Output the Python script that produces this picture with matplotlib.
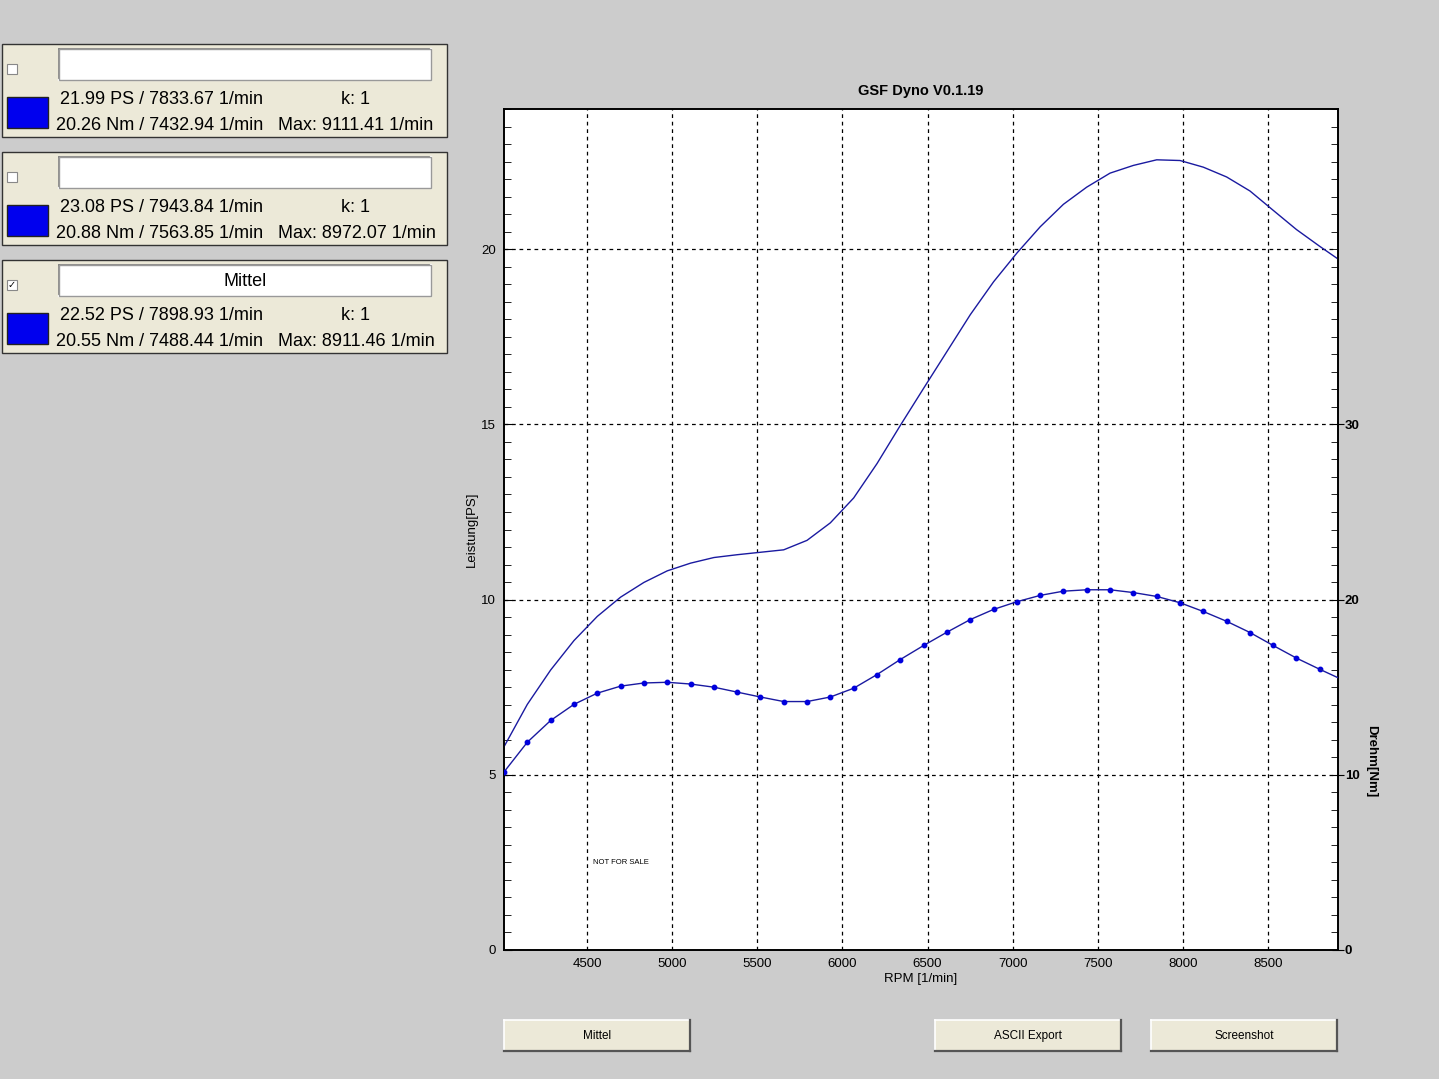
import matplotlib
matplotlib.use("Agg")
import matplotlib.pyplot as plt
from matplotlib.patches import Rectangle
from matplotlib.ticker import MultipleLocator

# Data
rpm = [4012, 4149, 4286, 4423, 4560, 4697, 4834, 4971, 5108, 5245, 5381, 5518,
       5655, 5792, 5929, 6066, 6203, 6340, 6477, 6614, 6751, 6888, 7025, 7162,
       7298, 7435, 7572, 7709, 7846, 7983, 8120, 8257, 8394, 8530, 8667, 8804,
       8911]
power_ps = [5.80, 7.01, 7.99, 8.83, 9.52, 10.07, 10.49, 10.82, 11.04, 11.20,
            11.28, 11.35, 11.42, 11.69, 12.19, 12.90, 13.88, 14.97, 16.03, 17.08,
            18.13, 19.07, 19.89, 20.64, 21.28, 21.77, 22.17, 22.39, 22.55, 22.53,
            22.34, 22.06, 21.66, 21.11, 20.56, 20.08, 19.72]
torque_nm = [10.16, 11.86, 13.10, 14.02, 14.66, 15.06, 15.24, 15.28, 15.18, 15.00,
             14.72, 14.44, 14.18, 14.18, 14.44, 14.94, 15.72, 16.58, 17.38, 18.14,
             18.86, 19.44, 19.88, 20.24, 20.48, 20.56, 20.56, 20.40, 20.18, 19.82,
             19.32, 18.76, 18.12, 17.38, 16.66, 16.02, 15.54]

panel_names = ["", "", "Mittel"]
panel_checked = [False, False, True]
panel_line1 = ["21.99 PS / 7833.67 1/min", "23.08 PS / 7943.84 1/min",
               "22.52 PS / 7898.93 1/min"]
panel_line2 = ["20.26 Nm / 7432.94 1/min", "20.88 Nm / 7563.85 1/min",
               "20.55 Nm / 7488.44 1/min"]
panel_max = ["Max: 9111.41 1/min", "Max: 8972.07 1/min", "Max: 8911.46 1/min"]
button_labels = ["Mittel", "ASCII Export", "Screenshot"]

W, H = 1439, 1079
BG = "#cccccc"
BEIGE = "#ece9d8"
LINE = "#1a1aa0"

plt.rcParams['font.family'] = ['Liberation Sans', 'DejaVu Sans']


def box(x, y, w, h):
    # pixel box (top-left origin) -> figure fraction rect
    return [x / W, 1 - (y + h) / H, w / W, h / H]


def fx(x):
    return x / W


def fy(y):
    return 1 - y / H


fig = plt.figure(figsize=(W / 100, H / 100), dpi=100, facecolor=BG)


def rect(x, y, w, h, fc, ec="none", lw=1.0, z=1):
    r = Rectangle((x / W, 1 - (y + h) / H), w / W, h / H, transform=fig.transFigure,
                  facecolor=fc, edgecolor=ec, linewidth=lw, zorder=z)
    fig.patches.append(r)


def bevel(x, y, w, h, raised=True):
    light, dark = ("white", "#555555") if raised else ("#808080", "white")
    fig.add_artist(plt.Line2D([fx(x), fx(x + w)], [fy(y), fy(y)], color=light, lw=1.2))
    fig.add_artist(plt.Line2D([fx(x), fx(x)], [fy(y), fy(y + h)], color=light, lw=1.2))
    fig.add_artist(plt.Line2D([fx(x), fx(x + w)], [fy(y + h), fy(y + h)], color=dark, lw=1.6))
    fig.add_artist(plt.Line2D([fx(x + w), fx(x + w)], [fy(y), fy(y + h)], color=dark, lw=1.6))


# left info panels
for i in range(3):
    top = 44 + i * 108
    rect(2, top, 445, 93, BEIGE, ec="#333333", lw=1.0)
    rect(59, top + 5, 372, 31, "white", ec="#999999", lw=1.0, z=2)
    bevel(59, top + 5, 372, 31, raised=False)
    if panel_names[i]:
        fig.text(fx(245), fy(top + 21), panel_names[i], ha="center", va="center",
                 fontsize=13, color="black")
    rect(7, top + 20, 10, 10, "white", ec="#888888", lw=0.8, z=2)
    if panel_checked[i]:
        fig.text(fx(12), fy(top + 25), "\u2713", ha="center", va="center",
                 fontsize=7, color="black", family="DejaVu Sans", fontweight="bold")
    rect(7, top + 53, 41, 31, "#0000ee", ec="#222222", lw=1.0, z=2)
    fig.text(fx(60), fy(top + 55), panel_line1[i], ha="left", va="center",
             fontsize=13, color="black")
    fig.text(fx(341), fy(top + 55), "k: 1", ha="left", va="center",
             fontsize=13, color="black")
    fig.text(fx(56), fy(top + 82), panel_line2[i], ha="left", va="center",
             fontsize=13, color="black")
    fig.text(fx(278), fy(top + 82), panel_max[i], ha="left", va="center",
             fontsize=13, color="black")

# buttons
for lbl, bx in zip(button_labels, [504, 935, 1151]):
    rect(bx, 1020, 186, 31, BEIGE, z=1)
    bevel(bx, 1020, 186, 31, raised=True)
    fig.text(fx(bx + 93), fy(1036), lbl, ha="center", va="center",
             fontsize=8.5, color="black")

# main chart
ax = fig.add_axes(box(504, 109, 834, 841))
ax.set_facecolor("white")
ax.plot(rpm, power_ps, color=LINE, lw=1.0, zorder=3)
ax.set_xlim(4012, 8911)
ax.set_ylim(0, 24)
ax.set_xticks([4500, 5000, 5500, 6000, 6500, 7000, 7500, 8000, 8500])
ax.set_yticks([0, 5, 10, 15, 20])
ax.yaxis.set_minor_locator(MultipleLocator(0.5))
ax.grid(True, which="major", color="black", linestyle=(0, (3, 3)), lw=0.9)
ax.tick_params(axis="x", length=0, labelsize=9.5, pad=6)
ax.tick_params(axis="y", which="major", direction="in", length=6, labelsize=9.5, pad=6)
ax.tick_params(axis="y", which="minor", direction="in", length=5)
for s in ax.spines.values():
    s.set_color("black")
    s.set_linewidth(1.2)
ax.set_xlabel("RPM [1/min]", fontsize=9.5, labelpad=2)
ax.set_ylabel("Leistung[PS]", fontsize=9.5, labelpad=2)
ax.set_title("GSF Dyno V0.1.19", fontsize=10.5, fontweight="bold", pad=10)
ax.text(4535, 2.5, "NOT FOR SALE", fontsize=5.5, ha="left", va="center", color="black")

ax2 = ax.twinx()
ax2.plot(rpm[:-1], torque_nm[:-1], color=LINE, lw=1.0, marker="o", ms=3.2,
         mfc="#0000dd", mec="#0000dd", zorder=3)
ax2.plot(rpm[-2:], torque_nm[-2:], color=LINE, lw=1.0, zorder=3)
ax2.set_ylim(0, 48)
ax2.set_yticks([0, 10, 20, 30])
ax2.yaxis.set_minor_locator(MultipleLocator(1))
ax2.tick_params(axis="y", which="major", direction="inout", length=8, labelsize=9.5, pad=1)
ax2.tick_params(axis="y", which="minor", direction="in", length=5)
for t in ax2.get_yticklabels():
    t.set_fontweight("bold")
ax2.set_ylabel("Drehm[Nm]", fontsize=9.5, fontweight="bold", rotation=-90, labelpad=28)
ax2.yaxis.set_label_coords(1.047, 0.225)
for s in ax2.spines.values():
    s.set_color("black")
    s.set_linewidth(1.2)

fig.savefig("out.png", dpi=100, facecolor=BG)
